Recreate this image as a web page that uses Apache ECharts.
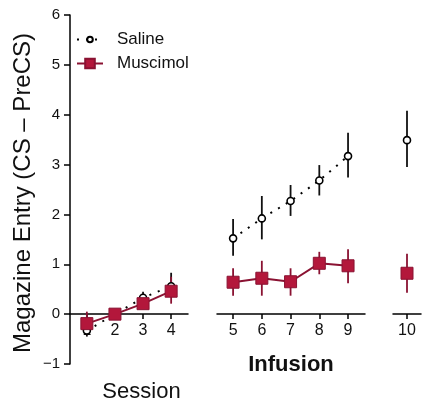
<!DOCTYPE html>
<html>
<head>
<meta charset="utf-8">
<script src="https://cdn.jsdelivr.net/npm/echarts@6/dist/echarts.min.js"></script>
<style>html,body{margin:0;padding:0;background:#fff}#c{width:423px;height:404px}</style>
</head>
<body>
<div id="c"></div>
<script>
const sessions = [1, 2, 3, 4, 5, 6, 7, 8, 9, 10];
const salineMean = [-0.33, 0.0, 0.33, 0.56, 1.52, 1.92, 2.27, 2.68, 3.17, 3.49];
const salineLow  = [-0.45, -0.08, 0.22, 0.36, 1.17, 1.50, 1.97, 2.38, 2.74, 2.95];
const salineHigh = [-0.2, 0.08, 0.45, 0.83, 1.91, 2.37, 2.59, 2.99, 3.64, 4.08];
const muscMean = [-0.19, 0.0, 0.21, 0.46, 0.64, 0.72, 0.65, 1.02, 0.97, 0.82];
const muscLow  = [-0.42, -0.08, 0.12, 0.21, 0.37, 0.37, 0.37, 0.80, 0.62, 0.43];
const muscHigh = [0.05, 0.08, 0.30, 0.75, 0.92, 1.07, 0.92, 1.25, 1.30, 1.21];
const panels = [[0, 4], [4, 9], [9, 10]];
const panelTitles = ['Session', 'Infusion'];

const FONT = 'Liberation Sans, Arial, sans-serif';
const RED = '#B3173B';
const DARKRED = '#8A1232';

const grids = [
  {left: 70, top: 15, width: 118, height: 349},
  {left: 217, top: 15, width: 148, height: 349},
  {left: 393, top: 15, width: 28, height: 349}
];
const xRanges = [[0.4, 4.6], [4.44, 9.59], [9.51, 10.49]];

const xAxes = panels.map((p, i) => ({
  type: 'value', gridIndex: i, min: xRanges[i][0], max: xRanges[i][1],
  offset: -50,
  axisLine: {show: true, onZero: false, lineStyle: {color: '#000', width: 1.5}},
  axisTick: {show: true, customValues: sessions.slice(p[0], p[1]), length: 5, lineStyle: {color: '#000', width: 1.5}},
  axisLabel: {show: true, customValues: sessions.slice(p[0], p[1]), fontFamily: FONT, fontSize: 16, color: '#111', margin: 9},
  splitLine: {show: false}
}));
const yAxes = panels.map((p, i) => ({
  type: 'value', gridIndex: i, min: -1, max: 6, interval: 1,
  show: i === 0,
  name: i === 0 ? 'Magazine Entry (CS – PreCS)' : '',
  nameLocation: 'middle', nameGap: 35, nameRotate: 90,
  nameTextStyle: {fontFamily: FONT, fontSize: 24, color: '#111', padding: [0, 7, 0, 0]},
  axisLine: {show: true, lineStyle: {color: '#000', width: 1.5}},
  axisTick: {show: true, length: 6, lineStyle: {color: '#000', width: 1.5}},
  axisLabel: {fontFamily: FONT, fontSize: 15, color: '#111', margin: 10,
    formatter: v => String(v).replace('-', '−')},
  splitLine: {show: false}
}));

function pts(arr, p) {
  const out = [];
  for (let k = p[0]; k < p[1]; k++) out.push([sessions[k], arr[k]]);
  return out;
}
function errData(lo, hi, p) {
  const out = [];
  for (let k = p[0]; k < p[1]; k++) out.push([sessions[k], lo[k], hi[k]]);
  return out;
}
function errSeries(lo, hi, p, i, color, z) {
  return {
    type: 'custom', xAxisIndex: i, yAxisIndex: i, z: z, silent: true,
    data: errData(lo, hi, p),
    renderItem: (params, api) => {
      const a = api.coord([api.value(0), api.value(1)]);
      const b = api.coord([api.value(0), api.value(2)]);
      return {type: 'line', shape: {x1: a[0], y1: a[1], x2: b[0], y2: b[1]},
        style: {stroke: color, lineWidth: 1.8}};
    }
  };
}

const series = [];
panels.forEach((p, i) => {
  series.push(errSeries(salineLow, salineHigh, p, i, '#111', 1));
  series.push(errSeries(muscLow, muscHigh, p, i, DARKRED, 2));
  series.push({
    name: 'Saline', type: 'line', xAxisIndex: i, yAxisIndex: i, z: 3,
    data: pts(salineMean, p), symbol: 'circle', symbolSize: 7,
    itemStyle: {color: '#fff', borderColor: '#000', borderWidth: 1.6},
    lineStyle: {color: '#000', width: 2, type: [2, 7]},
    animation: false
  });
  series.push({
    name: 'Muscimol', type: 'line', xAxisIndex: i, yAxisIndex: i, z: 4,
    data: pts(muscMean, p), symbol: 'rect', symbolSize: 12,
    itemStyle: {color: RED, borderColor: DARKRED, borderWidth: 1},
    lineStyle: {color: DARKRED, width: 2},
    animation: false
  });
});

const legendText = {fontFamily: FONT, fontSize: 17, color: '#111', padding: [0, 0, 0, 9]};
const chart = echarts.init(document.getElementById('c'), null, {renderer: 'canvas'});
chart.setOption({
  animation: false,
  grid: grids,
  xAxis: xAxes,
  yAxis: yAxes,
  legend: [
    {orient: 'vertical', left: 71, top: 26, itemWidth: 26, itemHeight: 7,
      data: ['Saline'], textStyle: legendText},
    {orient: 'vertical', left: 71, top: 50, itemWidth: 26, itemHeight: 12,
      data: ['Muscimol'], textStyle: legendText}
  ],
  graphic: [
    {type: 'text', x: 141.5, y: 381, style: {text: panelTitles[0], font: '22px ' + FONT, fill: '#111', align: 'center', verticalAlign: 'top'}},
    {type: 'text', x: 291, y: 354, style: {text: panelTitles[1], font: 'bold 22px ' + FONT, fill: '#111', align: 'center', verticalAlign: 'top'}}
  ],
  series: series
});
</script>
</body>
</html>
